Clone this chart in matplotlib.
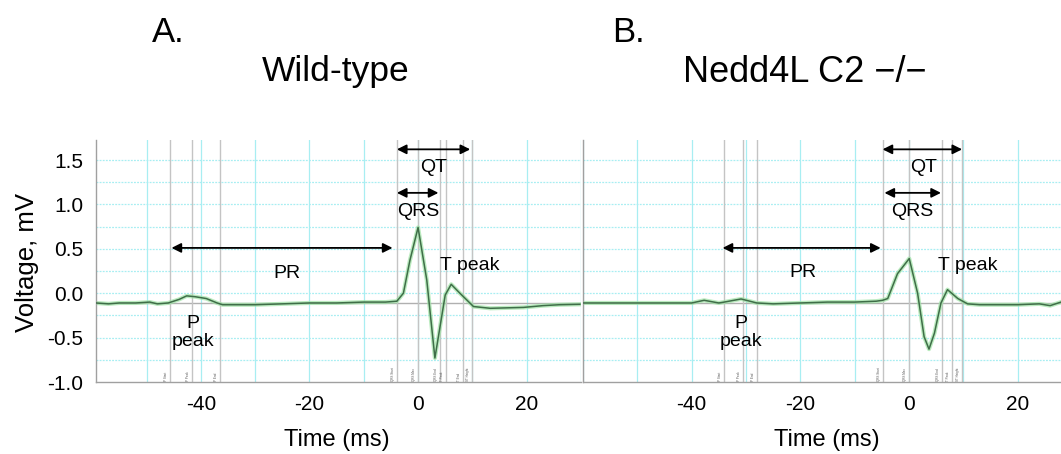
import matplotlib
matplotlib.use("Agg")
import matplotlib.pyplot as plt

plt.rcParams['font.family'] = ['Liberation Sans', 'DejaVu Sans']

# ---------------- data ----------------
wt_time = [-59.3, -57, -55, -52, -49.4, -48, -46, -44, -42.6, -41, -39, -37, -36, -34, -30,
           -25, -20, -15, -10, -6, -3.9, -2.7, -1.5, 0.0, 1.6, 3.1, 5.0, 6.1, 7.7, 10.2,
           13.3, 19.4, 23, 26, 29.8]
wt_mv = [-0.11, -0.12, -0.11, -0.11, -0.10, -0.12, -0.11, -0.07, -0.03, -0.04, -0.06, -0.11,
         -0.13, -0.13, -0.13, -0.12, -0.11, -0.11, -0.10, -0.10, -0.09, 0.0, 0.37, 0.74, 0.15,
         -0.73, -0.02, 0.10, 0.0, -0.15, -0.17, -0.16, -0.14, -0.13, -0.125]

ko_time = [-60, -55, -50, -45, -40, -37.7, -35, -34, -30.9, -28, -25, -20, -15, -10, -6,
           -4.85, -3.9, -2.1, 0.06, 1.6, 2.8, 3.7, 4.7, 5.9, 7.1, 9.0, 10.8, 13, 16.3, 20,
           24, 26, 28]
ko_mv = [-0.11, -0.11, -0.11, -0.11, -0.11, -0.08, -0.11, -0.10, -0.065, -0.11, -0.12, -0.11,
         -0.10, -0.10, -0.09, -0.08, -0.06, 0.22, 0.39, 0.0, -0.49, -0.63, -0.45, -0.11, 0.04,
         -0.06, -0.12, -0.13, -0.13, -0.13, -0.12, -0.14, -0.10]

wt_markers = [-45.7, -41.7, -36.5, -3.9, 0.06, 4.05, 5.2, 8.3, 9.9]
wt_marker_labels = ["P Start", "P Peak", "P End", "QRS Start", "QRS Max", "QRS End",
                    "T Peak", "T End", "ST Height"]
ko_markers = [-34, -30.6, -27.9, -4.85, 0.06, 6.0, 8.0, 9.8]
ko_marker_labels = ["P Start", "P Peak", "P End", "QRS Start", "QRS Max", "QRS End",
                    "T Peak", "ST Height"]

# interval arrows: (start, end, level)
wt_qt = (-3.9, 9.6, 1.62)
wt_qrs = (-3.9, 3.75, 1.13)
wt_pr = (-45.4, -4.7, 0.51)
ko_qt = (-4.85, 9.8, 1.62)
ko_qrs = (-4.5, 5.9, 1.13)
ko_pr = (-34.3, -5.2, 0.51)

# text labels: (text, x, y)
wt_texts = [("QT", 2.8, 1.41), ("QRS", 0.06, 0.92), ("PR", -24.2, 0.22),
            ("T peak", 9.6, 0.31), ("P\npeak", -41.4, -0.44)]
ko_texts = [("QT", 2.8, 1.42), ("QRS", 0.7, 0.92), ("PR", -19.6, 0.23),
            ("T peak", 10.8, 0.31), ("P\npeak", -30.9, -0.44)]

baseline_mv = -0.11
x_ticks = [-40, -20, 0, 20]
y_ticks = [-1.0, -0.5, 0.0, 0.5, 1.0, 1.5]
y_tick_labels = ["-1.0", "-0.5", "0.0", "0.5", "1.0", "1.5"]

# ---------------- figure ----------------
W, H = 1061, 454
fig = plt.figure(figsize=(W / 100, H / 100), dpi=100)

ax_bottom = (H - 382) / H
ax_height = (382 - 140) / H
axA = fig.add_axes([96 / W, ax_bottom, (581 - 96) / W, ax_height])
axB = fig.add_axes([583 / W, ax_bottom, (W - 583) / W, ax_height])

cyan = "#a8eef2"
gray_line = "#c4c4c4"
YTOP = -1.0 + (382 - 140) / 88.8


def setup(ax, xlim, time, mv, markers, mlabels, qt, qrs, pr, texts, show_y):
    ax.set_xlim(*xlim)
    ax.set_ylim(-1.0, YTOP)
    # grid
    x = -60
    while x <= 30:
        ax.axvline(x, color=cyan, lw=0.9, zorder=0)
        x += 10
    y = -0.75
    while y <= 1.5:
        ax.axhline(y, color=cyan, lw=0.9, ls=(0, (1.5, 1)), zorder=0)
        y += 0.25
    ax.axhline(baseline_mv, color="#b0b0b0", lw=1.0, zorder=1)
    # marker lines
    for m, lab in zip(markers, mlabels):
        ax.axvline(m, color=gray_line, lw=1.0, zorder=1)
        ax.text(m - 0.35, -0.99, lab, rotation=90, fontsize=2.2, color="#555555",
                ha="right", va="bottom")
    # trace
    ax.plot(time, mv, color="#9fe3a5", lw=3.0, alpha=0.7, zorder=2)
    ax.plot(time, mv, color="#3f6e48", lw=1.1, zorder=3)
    # arrows
    for (a, b, lvl) in (qt, qrs, pr):
        ax.annotate("", xy=(b, lvl), xytext=(a, lvl),
                    arrowprops=dict(arrowstyle="<|-|>", color="black", lw=1.3,
                                    mutation_scale=14, shrinkA=0, shrinkB=0))
    for t, tx, ty in texts:
        ax.text(tx, ty, t, fontsize=14, ha="center", va="center", linespacing=1.1)
    # axes styling
    for s in ("top", "right"):
        ax.spines[s].set_visible(False)
    for s in ("left", "bottom"):
        ax.spines[s].set_color("#a0a0a0")
        ax.spines[s].set_linewidth(1.0)
    ax.set_xticks(x_ticks)
    ax.set_xticklabels([str(v) for v in x_ticks], fontsize=15)
    ax.set_yticks(y_ticks)
    if show_y:
        ax.set_yticklabels(y_tick_labels, fontsize=15)
    else:
        ax.set_yticklabels([])
    ax.tick_params(length=0, pad=9)
    ax.set_facecolor("white")


setup(axA, (-59.3, 30), wt_time, wt_mv, wt_markers, wt_marker_labels,
      wt_qt, wt_qrs, wt_pr, wt_texts, True)
setup(axB, (-60, 28.0), ko_time, ko_mv, ko_markers, ko_marker_labels,
      ko_qt, ko_qrs, ko_pr, ko_texts, False)

# labels & titles
fig.text(27 / W, 1 - 262 / H, "Voltage, mV", rotation=90, fontsize=18.5,
         ha="center", va="center")
fig.text(337 / W, 1 - 440 / H, "Time (ms)", fontsize=17, ha="center", va="center")
fig.text(827 / W, 1 - 440 / H, "Time (ms)", fontsize=17, ha="center", va="center")
fig.text(152 / W, 1 - 32 / H, "A.", fontsize=25, ha="left", va="center")
fig.text(336 / W, 1 - 72 / H, "Wild-type", fontsize=25.5, ha="center", va="center")
fig.text(612 / W, 1 - 32 / H, "B.", fontsize=25, ha="left", va="center")
fig.text(805 / W, 1 - 72 / H, "Nedd4L C2 \u2212/\u2212", fontsize=26, ha="center", va="center")

fig.savefig("out.png", dpi=100, facecolor="white")
